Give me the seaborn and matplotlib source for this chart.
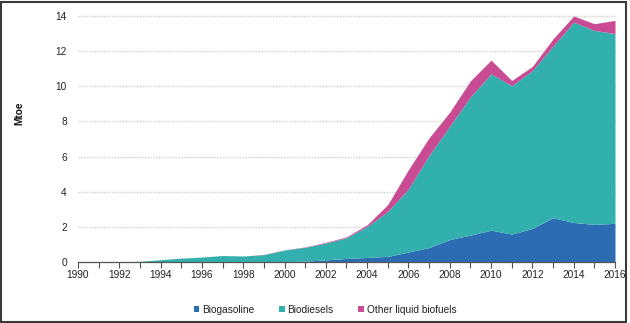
import matplotlib
matplotlib.use("Agg")
import matplotlib.pyplot as plt
import seaborn as sns
import numpy as np
from matplotlib.patches import Patch, Rectangle

years = list(range(1990, 2017))
biogasoline = [0.0, 0.0, 0.0, 0.0, 0.0, 0.0, 0.0, 0.0, 0.0, 0.01,
               0.02, 0.05, 0.12, 0.20, 0.26, 0.32, 0.57, 0.82, 1.28, 1.53,
               1.81, 1.59, 1.91, 2.52, 2.25, 2.14, 2.20]
biodiesels = [0.0, 0.0, 0.01, 0.04, 0.13, 0.22, 0.28, 0.37, 0.34, 0.41,
              0.66, 0.79, 0.96, 1.18, 1.76, 2.56, 3.59, 5.25, 6.45, 7.87,
              8.90, 8.44, 8.99, 9.76, 11.40, 11.04, 10.80]
other = [0.0, 0.0, 0.0, 0.0, 0.0, 0.0, 0.0, 0.0, 0.0, 0.01,
         0.01, 0.02, 0.04, 0.05, 0.10, 0.39, 1.10, 1.00, 0.80, 0.91,
         0.78, 0.30, 0.23, 0.42, 0.35, 0.38, 0.75]
series_names = ["Biogasoline", "Biodiesels", "Other liquid biofuels"]
colors = ["#2b6cb3", "#32b0ad", "#c94b94"]
y_ticks = [0, 2, 4, 6, 8, 10, 12, 14]

sns.set_theme(style="white")
plt.rcParams['font.family'] = ['Liberation Sans', 'DejaVu Sans']

FS = 7.3
W, H = 630, 323
fig = plt.figure(figsize=(W / 100, H / 100), dpi=100)
ax = fig.add_axes([78 / W, 1 - 262 / H, (615 - 78) / W, (262 - 16) / H])

ax.stackplot(years, biogasoline, biodiesels, other, colors=colors,
             labels=series_names, linewidth=0, zorder=3)

ax.set_xlim(1990, 2016)
ax.set_ylim(0, 14)
ax.set_yticks(y_ticks)
ax.set_yticklabels([str(v) for v in y_ticks], fontsize=FS, color="#222222")
ax.set_xticks(years)
ax.set_xticklabels([str(y) if y % 2 == 0 else "" for y in years],
                   fontsize=FS, color="#222222")
ax.tick_params(axis="y", length=0, pad=8)
ax.tick_params(axis="x", length=4, width=0.8, color="#555555", direction="out",
               pad=1.5, bottom=True)

for v in y_ticks[1:]:
    ax.axhline(v, color="#cfcfcf", linestyle=(0, (1, 1)), linewidth=1.0, zorder=1,
               clip_on=False)

for s in ["top", "right", "left"]:
    ax.spines[s].set_visible(False)
ax.spines["bottom"].set_color("#555555")
ax.spines["bottom"].set_linewidth(0.9)
ax.spines["bottom"].set_zorder(4)

fig.text(19 / W, 1 - 113 / H, "Mtoe", rotation=90, ha="center", va="center",
         fontsize=FS, fontweight="bold", color="#111111")

handles = [Patch(facecolor=c, edgecolor="none") for c in colors]
fig.legend(handles, series_names, loc="center", bbox_to_anchor=(325 / W, 1 - 310 / H),
           ncol=3, frameon=False, prop={"size": FS},
           handlelength=0.55, handleheight=0.55, handletextpad=0.3,
           columnspacing=2.4, labelcolor="#222222")

fig.patches.append(Rectangle((1 / W, 1 / H), 625 / W, 320 / H, transform=fig.transFigure,
                             fill=False, edgecolor="#3a3a3a", linewidth=1.5))

fig.savefig("out.png", dpi=100)
